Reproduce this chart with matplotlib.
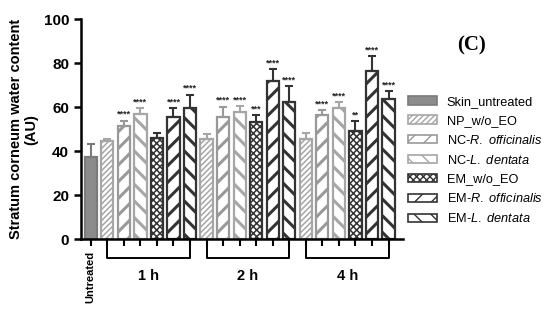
import matplotlib
matplotlib.use("Agg")
import matplotlib.pyplot as plt
from matplotlib.patches import Patch
import matplotlib.transforms as mtransforms
import numpy as np

plt.rcParams['font.family'] = ['Liberation Sans', 'DejaVu Sans']
plt.rcParams['mathtext.fontset'] = 'custom'
plt.rcParams['mathtext.rm'] = 'Liberation Sans'
plt.rcParams['mathtext.it'] = 'Liberation Sans:italic'

series = ["Skin_untreated", "NP_w/o_EO", "NC-$\\it{R.\\ officinalis}$", "NC-$\\it{L.\\ dentata}$",
          "EM_w/o_EO", "EM-$\\it{R.\\ officinalis}$", "EM-$\\it{L.\\ dentata}$"]
groups = ["1 h", "2 h", "4 h"]
untreated_val = 37.5
untreated_err = 5.7
# order per group: NP, NC-R, NC-L, EM w/o, EM-R, EM-L
values = {
    "1 h": [44.7, 51.5, 57.0, 46.0, 55.7, 59.6],
    "2 h": [45.4, 55.7, 58.0, 53.4, 72.0, 62.5],
    "4 h": [45.7, 56.3, 59.5, 49.3, 76.6, 63.5],
}
errors = {
    "1 h": [0.9, 2.4, 2.4, 2.4, 3.8, 6.0],
    "2 h": [2.4, 4.5, 2.5, 2.9, 5.3, 7.0],
    "4 h": [2.4, 2.4, 2.6, 4.4, 6.4, 3.8],
}
stars = {
    "1 h": ["", "****", "****", "", "****", "****"],
    "2 h": ["", "****", "****", "***", "****", "****"],
    "4 h": ["", "****", "****", "**", "****", "****"],
}

edge_cols = ["#7a7a7a", "#a6a6a6", "#999999", "#a6a6a6", "#333333", "#333333", "#333333"]
face_cols = ["#8c8c8c", "white", "white", "white", "white", "white", "white"]
hatches = [None, "//////", "//", "\\\\", "xxxxx", "//", "\\\\"]

fig = plt.figure(figsize=(5.5, 3.13), dpi=100)
ax = fig.add_axes([0.147, 0.236, 0.585, 0.703])

width = 0.74
def draw_bar(x, v, e, k, star=""):
    b = ax.bar(x, v, width=width, facecolor=face_cols[k], edgecolor=edge_cols[k],
               hatch=hatches[k], linewidth=1.6, zorder=2)
    for p in b:
        try:
            p.set_hatch_linewidth(2.2 if k not in (1, 4) else 1.1)
        except Exception:
            pass
    ax.errorbar(x, v, yerr=[[0], [e]], fmt='none', ecolor=edge_cols[k],
                elinewidth=1.5, capsize=3, capthick=1.5, zorder=3)
    if star:
        ax.text(x, v + e + 0.8, star, ha='center', va='bottom', fontsize=6.5,
                fontweight='bold', color='#222222')

draw_bar(0, untreated_val, untreated_err, 0)
xpos = [0]
group_pos = []
for gi, g in enumerate(groups):
    gp = []
    for j in range(6):
        x = 1 + gi * 6 + j
        draw_bar(x, values[g][j], errors[g][j], j + 1, stars[g][j])
        gp.append(x)
        xpos.append(x)
    group_pos.append(gp)

ax.set_xlim(-0.6, 18.85)
ax.set_ylim(0, 100)
ax.set_yticks([0, 20, 40, 60, 80, 100])
ax.set_xticks(xpos)
ax.set_xticklabels([""] * len(xpos))
for s in ["top", "right"]:
    ax.spines[s].set_visible(False)
for s in ["left", "bottom"]:
    ax.spines[s].set_linewidth(1.8)
ax.tick_params(axis='y', width=1.8, length=5, labelsize=11)
ax.tick_params(axis='x', width=1.5, length=5)
for lab in ax.get_yticklabels():
    lab.set_fontweight('bold')
ax.set_ylabel("Stratum corneum water content\n(AU)", fontsize=10.5, fontweight='bold',
              labelpad=4, linespacing=1.1)

trans = mtransforms.blended_transform_factory(ax.transData, ax.transAxes)
ax.text(0, -0.055, "Untreated", rotation=90, ha='center', va='top', fontsize=8,
        fontweight='bold', transform=trans)
for gi, gp in enumerate(group_pos):
    x0, x1 = gp[0], gp[-1]
    ax.plot([x0, x0, x1, x1], [-0.03, -0.085, -0.085, -0.03], color='black', lw=1.4,
            transform=trans, clip_on=False)
    ax.text((x0 + x1) / 2, -0.135, groups[gi], ha='center', va='top', fontsize=10.5,
            fontweight='bold', transform=trans)

handles = []
for k in range(7):
    handles.append(Patch(facecolor=face_cols[k], edgecolor=edge_cols[k], hatch=hatches[k],
                         linewidth=1.2, label=series[k]))
leg = fig.legend(handles=handles, loc='upper left', bbox_to_anchor=(0.732, 0.71),
                 frameon=False, fontsize=9.2, handlelength=2.3, handleheight=0.65,
                 labelspacing=0.54, handletextpad=0.75, borderaxespad=0.0)

fig.text(0.858, 0.855, "(C)", fontsize=15, fontweight='bold', ha='center', va='center',
         family='Liberation Serif')

fig.savefig("out.png", dpi=100)
